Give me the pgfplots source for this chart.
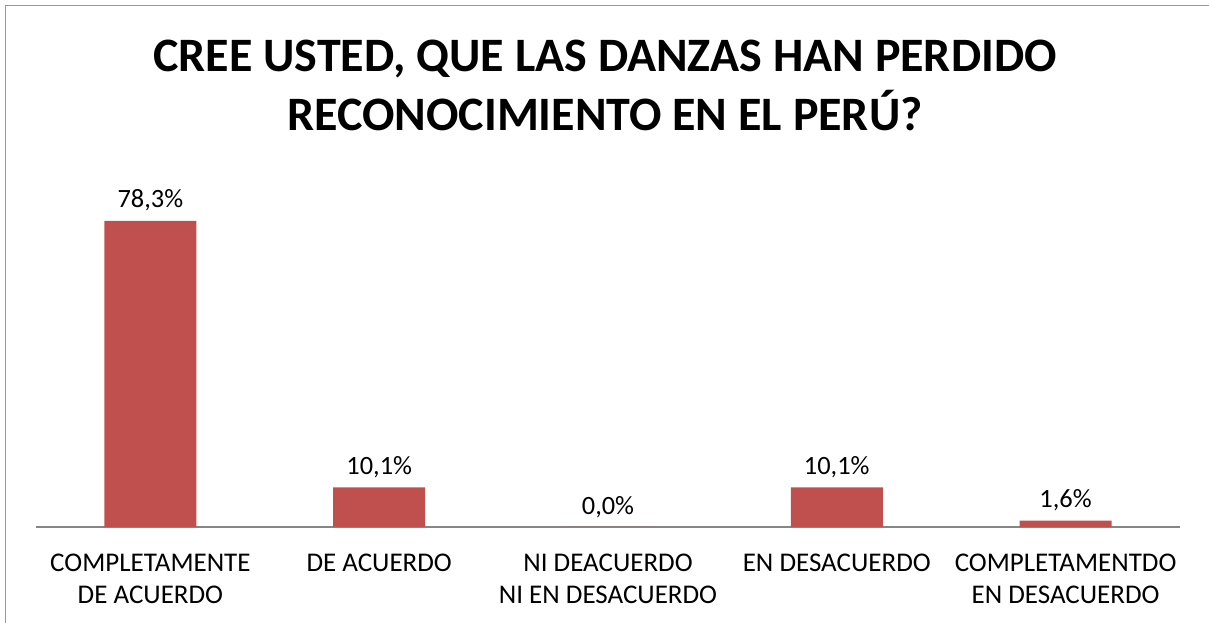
\documentclass[border=0pt]{standalone}
\usepackage{fontspec}
\setmainfont{Carlito}
\usepackage{pgfplots}
\pgfplotsset{compat=1.18}
\definecolor{barred}{HTML}{C0504D}
\definecolor{axgray}{HTML}{868686}
\begin{document}
\begin{tikzpicture}[x=1pt,y=1pt]
\useasboundingbox (0,0) rectangle (1209,623);
\draw[color=black!40, line width=1.6pt] (5.5,0) -- (5.5,617.5) -- (1209,617.5);
\node[font=\fontsize{48}{59}\selectfont\bfseries, align=center, anchor=base] at (605,492) {CREE USTED, QUE LAS DANZAS HAN PERDIDO\\RECONOCIMIENTO EN EL PERÚ?};
\begin{axis}[
  at={(36pt,96pt)}, anchor=south west,
  scale only axis, width=1144pt, height=352pt,
  xmin=-0.5, xmax=4.5, ymin=0, ymax=90,
  /pgf/number format/assume math mode=true,
  hide y axis,
  axis x line*=bottom,
  x axis line style={axgray, line width=1.3pt, -},
  major tick length=0pt,
  xtick=data,
  xticklabels={{COMPLETAMENTE\\DE ACUERDO},{DE ACUERDO},{NI DEACUERDO\\NI EN DESACUERDO},{EN DESACUERDO},{COMPLETAMENTDO\\EN DESACUERDO}},
  xticklabel style={font=\fontsize{27}{32}\selectfont, align=center, anchor=north, yshift=-23pt, text=black},
  ybar, bar width=92pt,
  nodes near coords={\pgfmathprintnumber[fixed,fixed zerofill,precision=1,use comma]{\pgfplotspointmeta}\%},
  every node near coord/.append style={font=\fontsize{26.4}{32}\selectfont, text=black, anchor=south, yshift=6pt},
  clip=false,
]
\addplot[fill=barred, draw=none] coordinates {(0,78.3) (1,10.1) (2,0.0) (3,10.1) (4,1.6)};
\end{axis}
\end{tikzpicture}
\end{document}
